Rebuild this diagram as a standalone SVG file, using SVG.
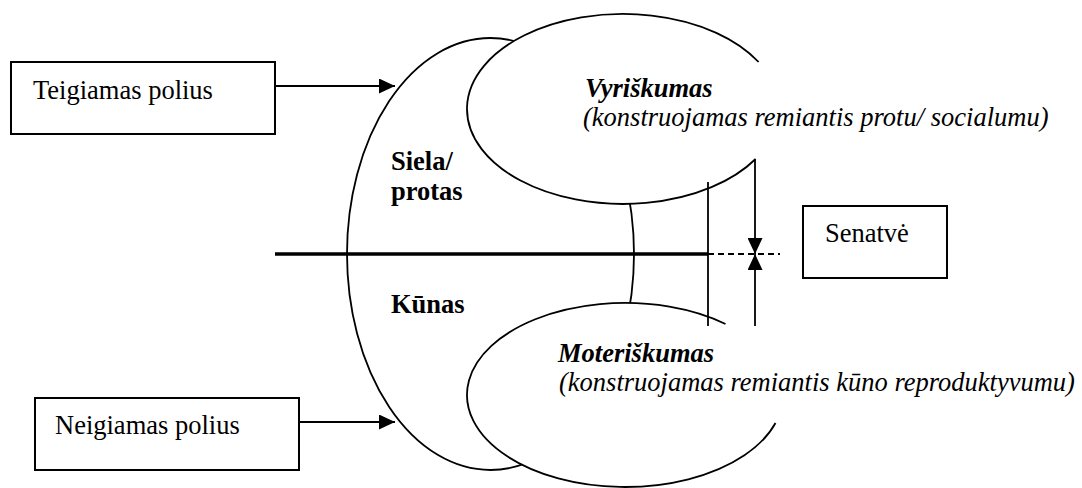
<svg xmlns="http://www.w3.org/2000/svg" width="1082" height="488" viewBox="0 0 1082 488">
<style>
  .ln { stroke: #000; stroke-width: 1.8; fill: none; }
  .box { stroke: #000; stroke-width: 2; fill: #fff; }
  .shape { stroke: #000; stroke-width: 1.8; fill: #fff; }
  text { font-family: 'Liberation Serif', 'Times New Roman', Times, 'DejaVu Serif', serif; font-size: 26.5px; fill: #000; }
  .b { font-weight: bold; }
  .i { font-style: italic; }
</style>
<defs>
  <marker id="arr" viewBox="0 0 16 15" refX="16" refY="7.5" markerWidth="16" markerHeight="15" markerUnits="userSpaceOnUse" orient="auto">
    <path d="M0,0 L16,7.5 L0,15 z" fill="#000"/>
  </marker>
</defs>
<rect width="1082" height="488" fill="#fff"/>

<g id="body-soul">
  <ellipse class="shape" cx="490.5" cy="254" rx="143.5" ry="216"/>
  <text class="b" x="391" y="170" font-family="Liberation Serif, serif">Siela/</text>
  <text class="b" x="391" y="200" font-family="Liberation Serif, serif">protas</text>
  <text class="b" x="391" y="313" font-family="Liberation Serif, serif">Kūnas</text>
</g>

<g id="masculinity">
  <path class="shape" d="M758.6,62 A156,95 0 1 0 755.6,159"/>
  <text class="b i" x="585" y="97" font-family="Liberation Serif, serif">Vyriškumas</text>
  <text class="i" x="583" y="126" font-family="Liberation Serif, serif">(konstruojamas remiantis protu/ socialumu)</text>
</g>

<g id="femininity">
  <path class="shape" d="M725.5,324 A158,92 0 1 0 775.5,423"/>
  <text class="b i" x="558" y="362" font-family="Liberation Serif, serif">Moteriškumas</text>
  <text class="i" x="559" y="391" font-family="Liberation Serif, serif">(konstruojamas remiantis kūno reproduktyvumu)</text>
</g>

<g id="positive-pole">
  <rect class="box" x="11" y="62" width="264" height="72"/>
  <text x="33" y="99" font-family="Liberation Serif, serif">Teigiamas polius</text>
</g>

<g id="negative-pole">
  <rect class="box" x="35" y="398" width="264" height="72"/>
  <text x="55" y="434" font-family="Liberation Serif, serif">Neigiamas polius</text>
</g>

<g id="old-age">
  <rect class="box" x="803" y="206" width="144" height="72"/>
  <text x="825" y="242" font-family="Liberation Serif, serif">Senatvė</text>
</g>

<g id="connectors">
  <line class="ln" x1="275" y1="86" x2="395" y2="86" marker-end="url(#arr)"/>
  <line class="ln" x1="299" y1="422" x2="395" y2="422" marker-end="url(#arr)"/>
  <line x1="275" y1="254" x2="708" y2="254" stroke="#000" stroke-width="3.5"/>
  <line x1="708" y1="254" x2="780" y2="254" stroke="#000" stroke-width="1.8" stroke-dasharray="6,4"/>
  <line class="ln" x1="708" y1="182" x2="708" y2="326"/>
  <line class="ln" x1="755" y1="159" x2="755" y2="254" marker-end="url(#arr)"/>
  <line class="ln" x1="755" y1="326" x2="755" y2="254" marker-end="url(#arr)"/>
</g>
</svg>
